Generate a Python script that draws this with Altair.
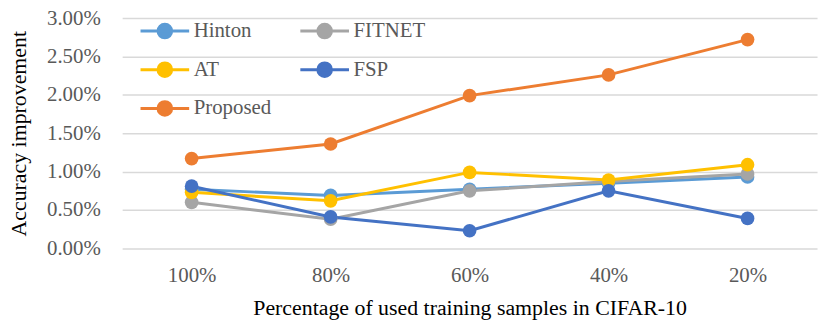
import altair as alt
import pandas as pd

categories = ["100%", "80%", "60%", "40%", "20%"]
series = ["Hinton", "FITNET", "AT", "FSP", "Proposed"]
hinton = [0.77, 0.69, 0.77, 0.85, 0.93]
fitnet = [0.60, 0.38, 0.75, 0.87, 0.97]
at = [0.73, 0.62, 0.99, 0.89, 1.09]
fsp = [0.81, 0.41, 0.23, 0.75, 0.39]
proposed = [1.17, 1.36, 1.99, 2.26, 2.72]
colors = ["#5B9BD5", "#A5A5A5", "#FFC000", "#4472C4", "#ED7D31"]

# legend is laid out column-major, so order entries to read row-wise like the reference
legend_order = ["Hinton", "AT", "Proposed", "FITNET", "FSP"]
legend_colors = [colors[series.index(s)] for s in legend_order]

rows = []
for name, vals in zip(series, [hinton, fitnet, at, fsp, proposed]):
    for c, v in zip(categories, vals):
        rows.append({"Series": name, "Category": c, "Value": v / 100.0, "ord": series.index(name)})
df = pd.DataFrame(rows)

FONT = "Liberation Serif"

x = alt.X("Category:N", sort=categories, scale=alt.Scale(type="point", padding=0.5),
          axis=alt.Axis(title="Percentage of used training samples in CIFAR-10", labelAngle=0,
                        labelFont=FONT, titleFont=FONT,
                        labelPadding=16, titlePadding=13, ticks=False, domain=False, grid=False))
y = alt.Y("Value:Q", scale=alt.Scale(domain=[0, 0.03], nice=False),
          axis=alt.Axis(title="Accuracy improvement", format=".2%", values=[0, 0.005, 0.01, 0.015, 0.02, 0.025, 0.03],
                        labelFont=FONT, titleFont=FONT,
                        labelPadding=22, titlePadding=16, ticks=False, domain=False,
                        gridColor="#D9D9D9", gridWidth=1.5))
color = alt.Color("Series:N", scale=alt.Scale(domain=legend_order, range=legend_colors),
                  legend=alt.Legend(title=None, orient="none", legendX=17, legendY=-13, columns=2,
                                    symbolType="M-1,0L1,0M0.28,0A0.28,0.28,0,1,1,-0.28,0A0.28,0.28,0,1,1,0.28,0Z",
                                    symbolSize=2401, symbolStrokeWidth=3, labelFontSize=21,
                                    labelFont=FONT, labelColor="#595959", columnPadding=22, rowPadding=0,
                                    labelOffset=3))

lines = alt.Chart(df).mark_line(strokeWidth=3).encode(x=x, y=y, color=color, order="ord:Q")
points = alt.Chart(df).mark_point(filled=True, size=190, opacity=1).encode(x=x, y=y, color=color)

chart = alt.layer(lines, points).properties(
    width=700, height=232,
    autosize=alt.AutoSizeParams(type="none"),
    padding={"left": 115, "top": 9, "right": 5, "bottom": 75},
).configure(
    font=FONT,
    style={"guide-label": {"font": FONT}, "guide-title": {"font": FONT}},
).configure_axis(
    labelFont=FONT, titleFont=FONT, labelFontSize=21, titleFontSize=22,
    labelColor="#595959", titleColor="#000000", titleFontWeight="normal",
).configure_legend(labelFont=FONT).configure_view(stroke=None)

chart.save("out.html", embed_options={"renderer": "svg", "actions": False})
